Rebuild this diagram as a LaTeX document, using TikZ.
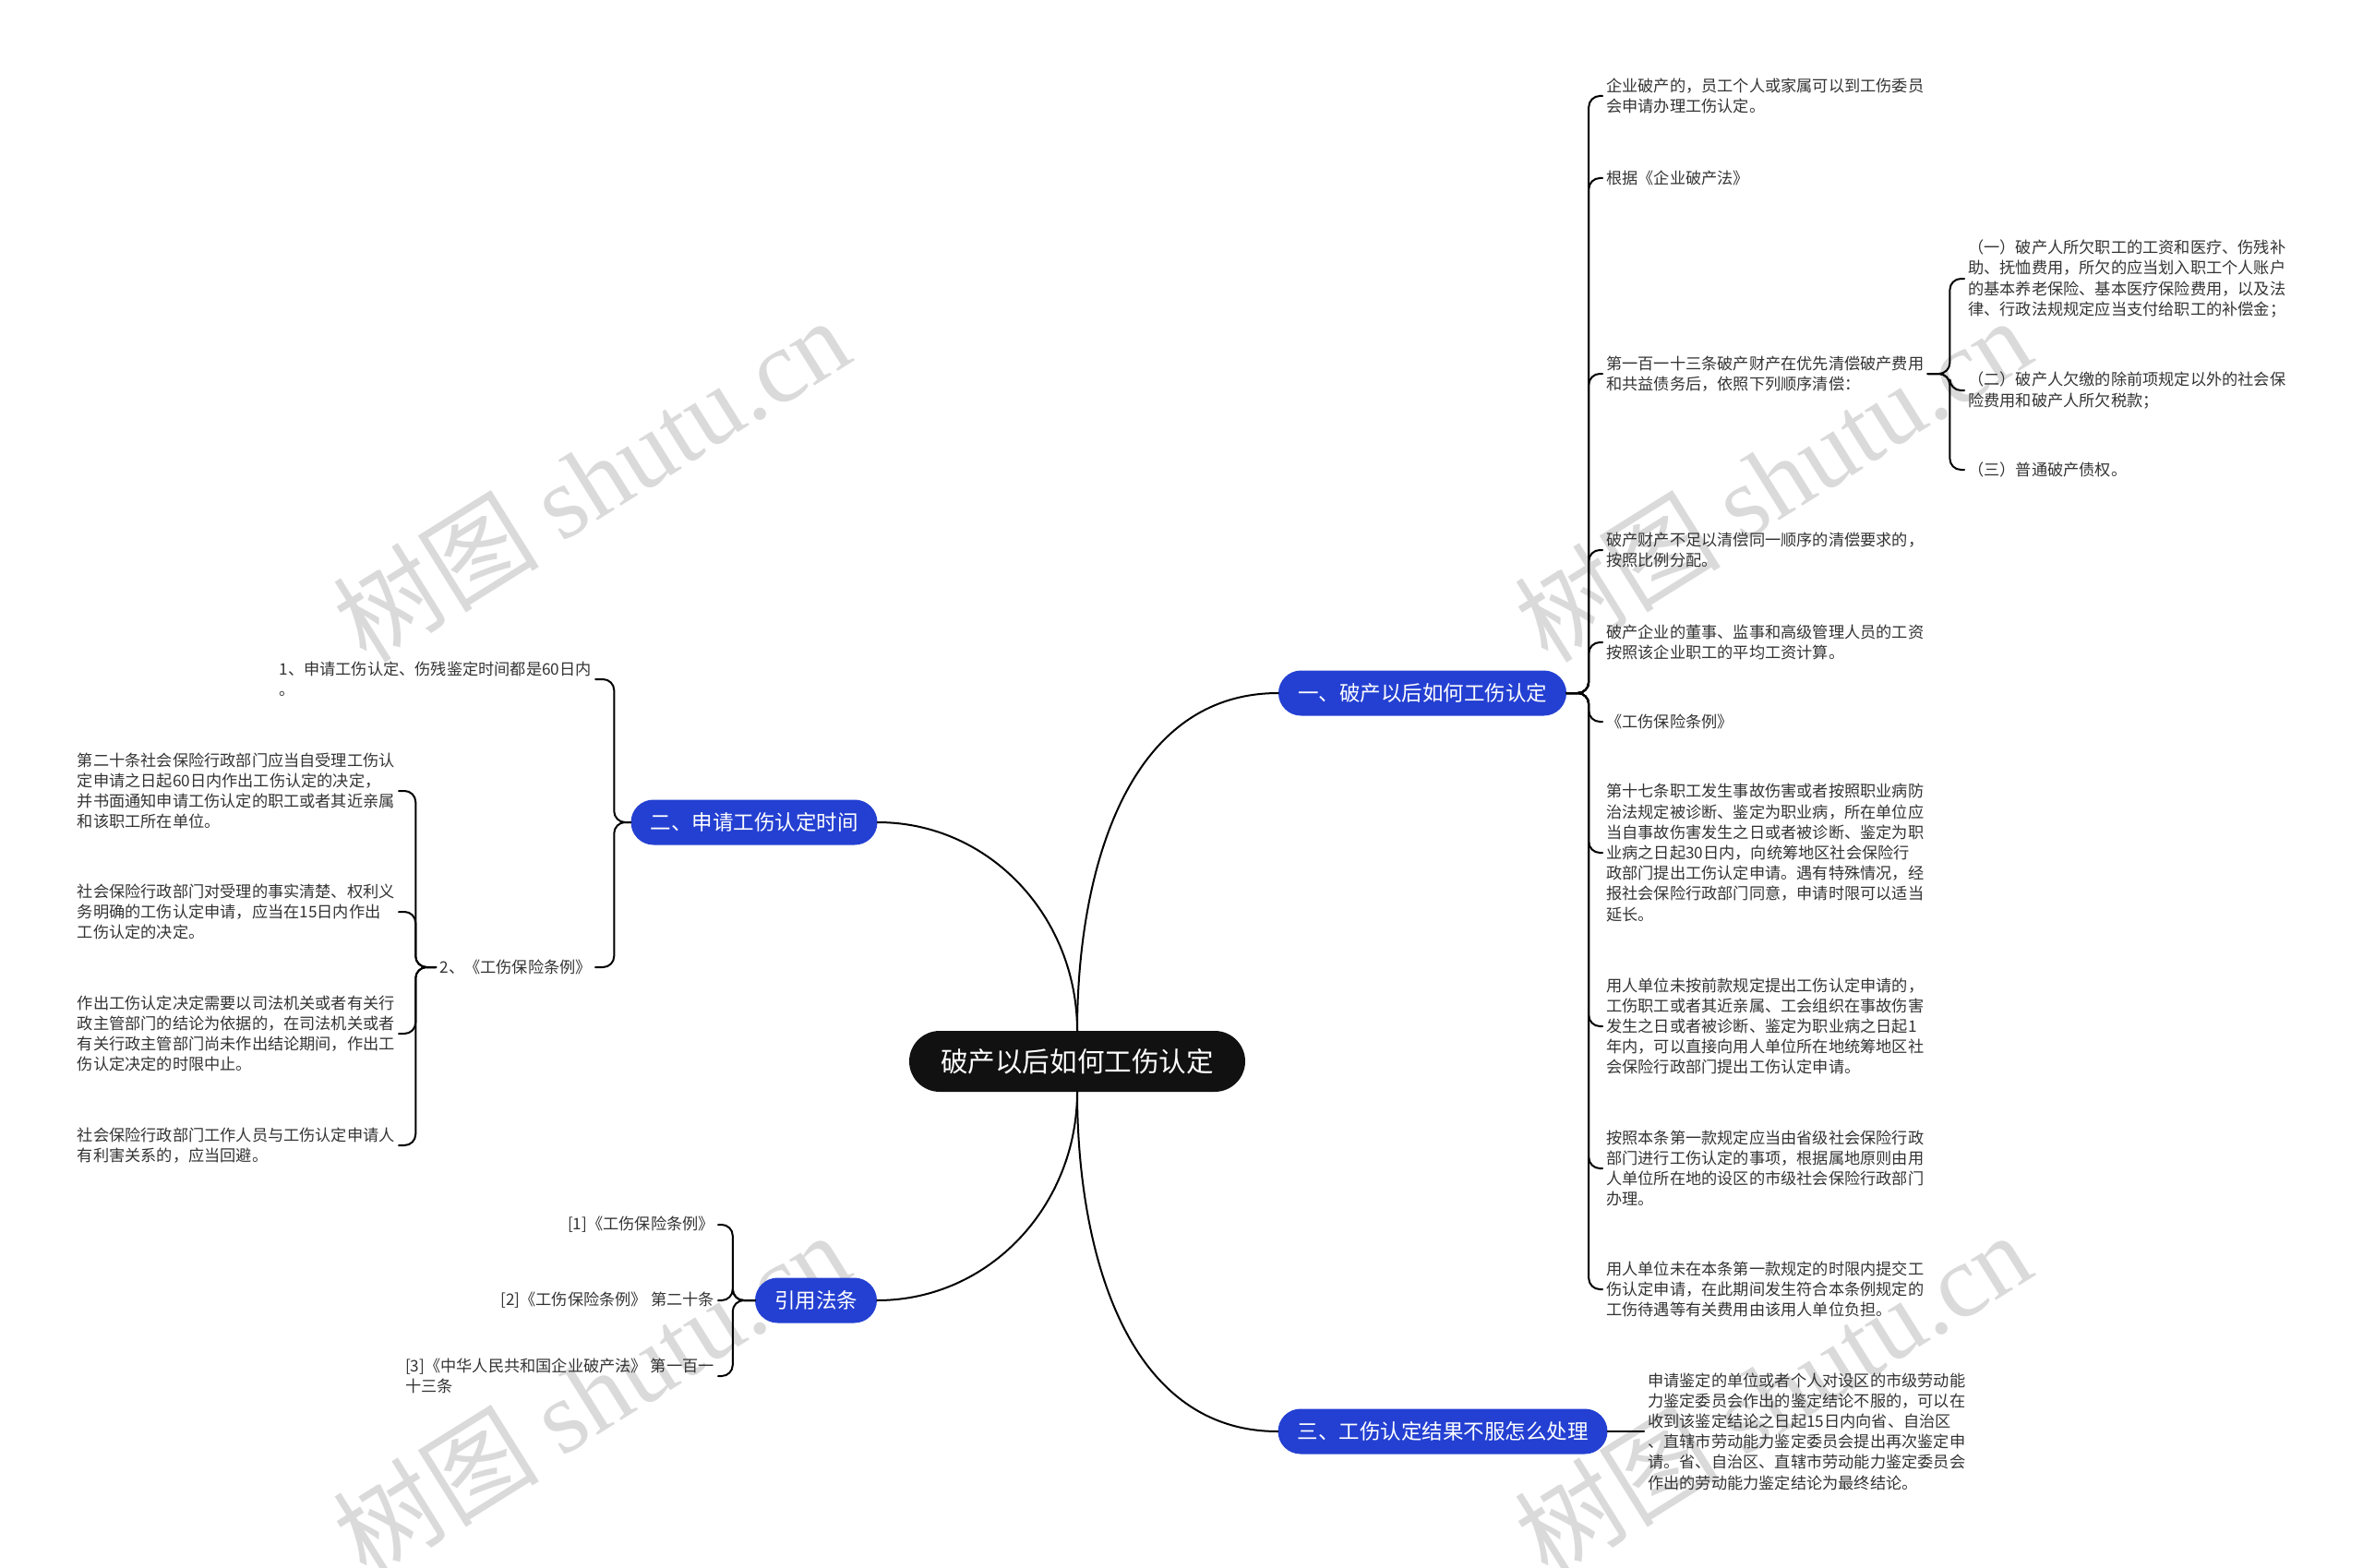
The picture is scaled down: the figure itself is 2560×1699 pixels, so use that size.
\documentclass[tikz,border=0pt]{standalone}
\usepackage{fontspec}
\setmainfont{Noto Sans CJK SC}
\newfontfamily\markserif{Liberation Serif}
\usepackage{tikz}
\usepackage{xcolor}
\definecolor{branchblue}{RGB}{36,64,210}
\definecolor{rootblack}{RGB}{17,17,17}
\definecolor{leafgray}{RGB}{51,51,51}
\definecolor{markgray}{RGB}{218,218,218}

\begin{document}
\begin{tikzpicture}[x=1pt,y=-1pt,line cap=round,
  rootnode/.style={fill=rootblack,text=white,rounded corners=33pt,minimum height=66pt,inner xsep=34pt,inner ysep=0pt,font=\fontsize{29.6}{36}\selectfont},
  branchnode/.style={fill=branchblue,text=white,rounded corners=24.5pt,minimum height=49pt,inner xsep=21pt,inner ysep=0pt,font=\fontsize{22.5}{27}\selectfont},
  leafnode/.style={align=left,text=leafgray,inner xsep=4pt,inner ysep=2pt,font=\fontsize{17.2}{22.2}\selectfont},
  link/.style={draw=black,line width=2pt},
  bracket/.style={draw=black,line width=2pt,rounded corners=12pt},
  watermark/.style={text=markgray,rotate=32,font=\fontsize{112}{120}\selectfont}]
\useasboundingbox (0,0) rectangle (2560,1699);
\node[watermark] (wm1) at (640,519) {树图 {\markserif shutu.cn}};
\node[watermark] (wm2) at (1920,519) {树图 {\markserif shutu.cn}};
\node[watermark] (wm3) at (640,1510) {树图 {\markserif shutu.cn}};
\node[watermark] (wm4) at (1920,1510) {树图 {\markserif shutu.cn}};
\node[rootnode] (root) at (1167,1150) {破产以后如何工伤认定};
\node[branchnode] (b1) at (1541,751) {一、破产以后如何工伤认定};
\node[branchnode] (b2) at (817,891) {二、申请工伤认定时间};
\node[branchnode] (b3) at (1563,1551) {三、工伤认定结果不服怎么处理};
\node[branchnode] (b4) at (884,1409) {引用法条};
\draw[link] (root.north) to[out=90,in=180] (b1.west);
\draw[link] (root.north) to[out=90,in=0] (b2.east);
\draw[link] (root.south) to[out=270,in=180] (b3.west);
\draw[link] (root.south) to[out=270,in=0] (b4.east);
\node[leafnode,anchor=west] (r1) at (1736,104) {企业破产的，员工个人或家属可以到工伤委员\\会申请办理工伤认定。};
\node[leafnode,anchor=west] (r2) at (1736,193) {根据《企业破产法》};
\node[leafnode,anchor=west] (r3) at (1736,405) {第一百一十三条破产财产在优先清偿破产费用\\和共益债务后，依照下列顺序清偿：};
\node[leafnode,anchor=west] (r4) at (1736,596) {破产财产不足以清偿同一顺序的清偿要求的，\\按照比例分配。};
\node[leafnode,anchor=west] (r5) at (1736,696) {破产企业的董事、监事和高级管理人员的工资\\按照该企业职工的平均工资计算。};
\node[leafnode,anchor=west] (r6) at (1736,782) {《工伤保险条例》};
\node[leafnode,anchor=west] (r7) at (1736,924) {第十七条职工发生事故伤害或者按照职业病防\\治法规定被诊断、鉴定为职业病，所在单位应\\当自事故伤害发生之日或者被诊断、鉴定为职\\业病之日起30日内，向统筹地区社会保险行\\政部门提出工伤认定申请。遇有特殊情况，经\\报社会保险行政部门同意，申请时限可以适当\\延长。};
\node[leafnode,anchor=west] (r8) at (1736,1112) {用人单位未按前款规定提出工伤认定申请的，\\工伤职工或者其近亲属、工会组织在事故伤害\\发生之日或者被诊断、鉴定为职业病之日起1\\年内，可以直接向用人单位所在地统筹地区社\\会保险行政部门提出工伤认定申请。};
\node[leafnode,anchor=west] (r9) at (1736,1266) {按照本条第一款规定应当由省级社会保险行政\\部门进行工伤认定的事项，根据属地原则由用\\人单位所在地的设区的市级社会保险行政部门\\办理。};
\node[leafnode,anchor=west] (r10) at (1736,1397) {用人单位未在本条第一款规定的时限内提交工\\伤认定申请，在此期间发生符合本条例规定的\\工伤待遇等有关费用由该用人单位负担。};
\draw[bracket] (b1.east) -- ++(24,0) |- (r1.west);
\draw[bracket] (b1.east) -- ++(24,0) |- (r2.west);
\draw[bracket] (b1.east) -- ++(24,0) |- (r3.west);
\draw[bracket] (b1.east) -- ++(24,0) |- (r4.west);
\draw[bracket] (b1.east) -- ++(24,0) |- (r5.west);
\draw[bracket] (b1.east) -- ++(24,0) |- (r6.west);
\draw[bracket] (b1.east) -- ++(24,0) |- (r7.west);
\draw[bracket] (b1.east) -- ++(24,0) |- (r8.west);
\draw[bracket] (b1.east) -- ++(24,0) |- (r9.west);
\draw[bracket] (b1.east) -- ++(24,0) |- (r10.west);
\node[leafnode,anchor=west] (s1) at (2128,302) {（一）破产人所欠职工的工资和医疗、伤残补\\助、抚恤费用，所欠的应当划入职工个人账户\\的基本养老保险、基本医疗保险费用，以及法\\律、行政法规规定应当支付给职工的补偿金；};
\node[leafnode,anchor=west] (s2) at (2128,423) {（二）破产人欠缴的除前项规定以外的社会保\\险费用和破产人所欠税款；};
\node[leafnode,anchor=west] (s3) at (2128,509) {（三）普通破产债权。};
\draw[bracket] (r3.east) -- ++(24,0) |- (s1.west);
\draw[bracket] (r3.east) -- ++(24,0) |- (s2.west);
\draw[bracket] (r3.east) -- ++(24,0) |- (s3.west);
\node[leafnode,anchor=west] (t1) at (1781,1551) {申请鉴定的单位或者个人对设区的市级劳动能\\力鉴定委员会作出的鉴定结论不服的，可以在\\收到该鉴定结论之日起15日内向省、自治区\\、直辖市劳动能力鉴定委员会提出再次鉴定申\\请。省、自治区、直辖市劳动能力鉴定委员会\\作出的劳动能力鉴定结论为最终结论。};
\draw[link] (b3.east) -- (t1.west);
\node[leafnode,anchor=east] (l1) at (645,736) {1、申请工伤认定、伤残鉴定时间都是60日内\\。};
\node[leafnode,anchor=east] (l2) at (645,1048) {2、《工伤保险条例》};
\draw[bracket] (b2.west) -- ++(-18,0) |- (l1.east);
\draw[bracket] (b2.west) -- ++(-18,0) |- (l2.east);
\node[leafnode,anchor=east] (m1) at (432,857) {第二十条社会保险行政部门应当自受理工伤认\\定申请之日起60日内作出工伤认定的决定，\\并书面通知申请工伤认定的职工或者其近亲属\\和该职工所在单位。};
\node[leafnode,anchor=east] (m2) at (432,988) {社会保险行政部门对受理的事实清楚、权利义\\务明确的工伤认定申请，应当在15日内作出\\工伤认定的决定。};
\node[leafnode,anchor=east] (m3) at (432,1120) {作出工伤认定决定需要以司法机关或者有关行\\政主管部门的结论为依据的，在司法机关或者\\有关行政主管部门尚未作出结论期间，作出工\\伤认定决定的时限中止。};
\node[leafnode,anchor=east] (m4) at (432,1241) {社会保险行政部门工作人员与工伤认定申请人\\有利害关系的，应当回避。};
\draw[bracket] (l2.west) -- ++(-22,0) |- (m1.east);
\draw[bracket] (l2.west) -- ++(-22,0) |- (m2.east);
\draw[bracket] (l2.west) -- ++(-22,0) |- (m3.east);
\draw[bracket] (l2.west) -- ++(-22,0) |- (m4.east);
\node[leafnode,anchor=east] (c1) at (778,1327) {[1]《工伤保险条例》};
\node[leafnode,anchor=east] (c2) at (778,1409) {[2]《工伤保险条例》 第二十条};
\node[leafnode,anchor=east] (c3) at (778,1491) {[3]《中华人民共和国企业破产法》 第一百一\\十三条};
\draw[bracket] (b4.west) -- ++(-24,0) |- (c1.east);
\draw[bracket] (b4.west) -- ++(-24,0) |- (c2.east);
\draw[bracket] (b4.west) -- ++(-24,0) |- (c3.east);
\end{tikzpicture}
\end{document}
